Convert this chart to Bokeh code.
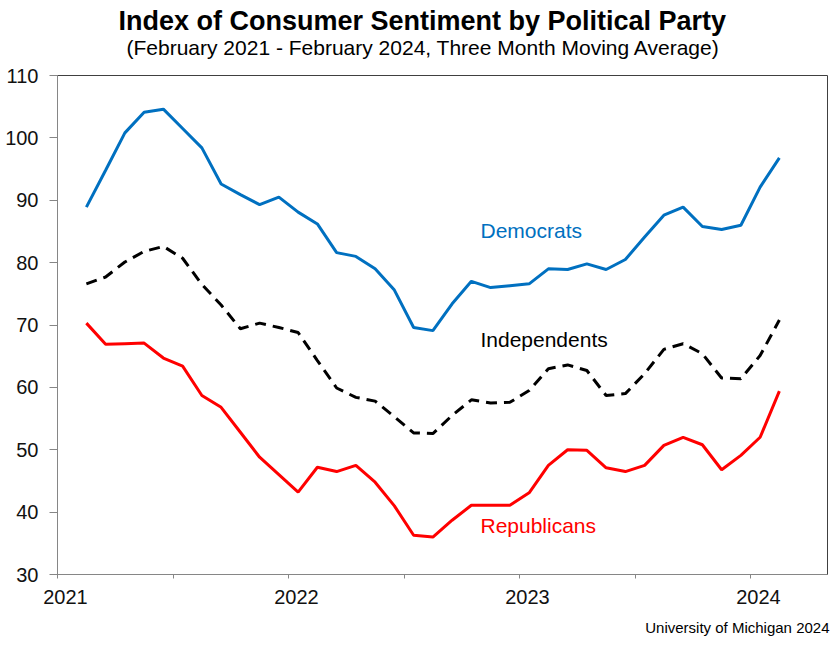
from bokeh.plotting import figure
from bokeh.models import Range1d, FixedTicker, Title, ColumnDataSource, LinearAxis
from bokeh.core.properties import value
from bokeh.embed import file_html
from bokeh.resources import INLINE

# ---- data ----
months = ["2021-02", "2021-03", "2021-04", "2021-05", "2021-06", "2021-07", "2021-08",
          "2021-09", "2021-10", "2021-11", "2021-12", "2022-01", "2022-02", "2022-03",
          "2022-04", "2022-05", "2022-06", "2022-07", "2022-08", "2022-09", "2022-10",
          "2022-11", "2022-12", "2023-01", "2023-02", "2023-03", "2023-04", "2023-05",
          "2023-06", "2023-07", "2023-08", "2023-09", "2023-10", "2023-11", "2023-12",
          "2024-01", "2024-02"]
democrats = [88.9, 94.8, 100.8, 104.1, 104.6, 101.5, 98.4, 92.6, 90.9, 89.3, 90.5, 88.1,
             86.2, 81.6, 81.0, 79.0, 75.6, 69.6, 69.1, 73.4, 77.0, 76.0, 76.3, 76.6,
             79.0, 78.9, 79.8, 78.9, 80.5, 84.1, 87.6, 88.9, 85.8, 85.3, 86.0, 92.1, 96.8]
independents = [76.6, 77.7, 80.1, 81.8, 82.6, 80.7, 76.5, 73.2, 69.4, 70.3, 69.6, 68.8,
                64.3, 59.9, 58.4, 57.8, 55.3, 52.7, 52.6, 55.5, 58.0, 57.5, 57.6, 59.5,
                63.0, 63.6, 62.7, 58.7, 59.0, 62.2, 66.1, 67.0, 65.4, 61.5, 61.4, 65.1, 70.8]
republicans = [70.3, 66.9, 67.0, 67.1, 64.7, 63.4, 58.7, 56.8, 52.8, 48.8, 46.0, 43.2,
               47.2, 46.5, 47.5, 44.8, 41.0, 36.3, 36.0, 38.7, 41.1, 41.1, 41.1, 43.1,
               47.5, 50.0, 49.9, 47.1, 46.5, 47.5, 50.7, 52.0, 50.8, 46.8, 49.1, 52.0, 59.4]
year_ticks = [2021, 2022, 2023, 2024]
half_year_ticks = [2021.5, 2022.5, 2023.5]
y_ticks = [30, 40, 50, 60, 70, 80, 90, 100, 110]

title_text = "Index of Consumer Sentiment by Political Party"
subtitle_text = "(February 2021 - February 2024, Three Month Moving Average)"
source_text = "University of Michigan 2024"

# decimal year at mid-month
xs = [int(m[:4]) + (int(m[5:]) - 0.5) / 12 for m in months]
src = ColumnDataSource(dict(x=xs, dem=democrats, ind=independents, rep=republicans))

FONT = "Liberation Sans"
X0, X1 = 2021, 2024 + 4 / 12
Y0, Y1 = 30, 110
SHIFT = 0.0346  # year labels sit a little right of their tick marks

p = figure(width=840, height=647, output_backend="svg", toolbar_location=None,
           x_range=Range1d(X0, X1), y_range=Range1d(Y0, Y1),
           min_border_left=57, min_border_right=13, min_border_top=75, min_border_bottom=73)
p.extra_x_ranges = {"labels": Range1d(X0 - SHIFT, X1 - SHIFT)}
p.background_fill_color = "white"
p.border_fill_color = "white"
p.xgrid.visible = False
p.ygrid.visible = False
p.outline_line_color = "#404040"
p.outline_line_width = 1

# x axis: tick marks only
p.xaxis.ticker = FixedTicker(ticks=year_ticks, minor_ticks=half_year_ticks)
p.xaxis.major_label_overrides = {t: "" for t in year_ticks}
p.xaxis.major_label_standoff = 0
p.xaxis.axis_line_color = "#868686"
p.xaxis.major_tick_line_color = "#868686"
p.xaxis.minor_tick_line_color = "#868686"
p.xaxis.major_tick_in = 0
p.xaxis.minor_tick_in = 0
p.xaxis.major_tick_out = 4
p.xaxis.minor_tick_out = 4

# x axis: year labels
lab_axis = LinearAxis(x_range_name="labels", ticker=FixedTicker(ticks=year_ticks),
                      axis_line_color=None, major_tick_line_color=None,
                      minor_tick_line_color=None, major_tick_out=0, major_tick_in=0,
                      major_label_standoff=11, major_label_text_font=FONT,
                      major_label_text_font_size="20px", major_label_text_color="#111111")
p.add_layout(lab_axis, "below")

# y axis
p.yaxis.ticker = FixedTicker(ticks=y_ticks)
p.yaxis.axis_line_color = "#868686"
p.yaxis.major_tick_line_color = "#868686"
p.yaxis.minor_tick_line_color = None
p.yaxis.major_tick_in = 0
p.yaxis.major_tick_out = 8
p.yaxis.major_label_standoff = 11
p.yaxis.major_label_text_font = FONT
p.yaxis.major_label_text_font_size = "20px"
p.yaxis.major_label_text_color = "#111111"

# lines
p.line("x", "dem", source=src, line_color="#0070C0", line_width=3)
p.line("x", "ind", source=src, line_color="black", line_width=3, line_dash="11 7")
p.line("x", "rep", source=src, line_color="#FF0000", line_width=3)

# series labels
p.text(x=[2022.831], y=[85.1], text=["Democrats"], text_color="#0070C0",
       text_font=value(FONT), text_font_size="21px", text_baseline="middle")
p.text(x=[2022.831], y=[67.7], text=["Independents"], text_color="black",
       text_font=value(FONT), text_font_size="21px", text_baseline="middle")
p.text(x=[2022.831], y=[37.8], text=["Republicans"], text_color="#FF0000",
       text_font=value(FONT), text_font_size="21px", text_baseline="middle")

# titles
sub = Title(text=subtitle_text, text_font=FONT, text_font_size="21px",
            text_font_style="normal", align="left", offset=69, standoff=34,
            text_color="black")
main = Title(text=title_text, text_font=FONT, text_font_size="27px",
             text_font_style="bold", align="left", offset=61, standoff=-38,
             text_color="black")
p.add_layout(sub, "above")
p.add_layout(main, "above")

# source note below the axis, right aligned
foot = Title(text=source_text, text_font=FONT, text_font_size="15px",
             text_font_style="normal", align="right", offset=-2, standoff=21,
             text_color="black")
p.add_layout(foot, "below")

open("out.html", "w").write(file_html(p, INLINE))
